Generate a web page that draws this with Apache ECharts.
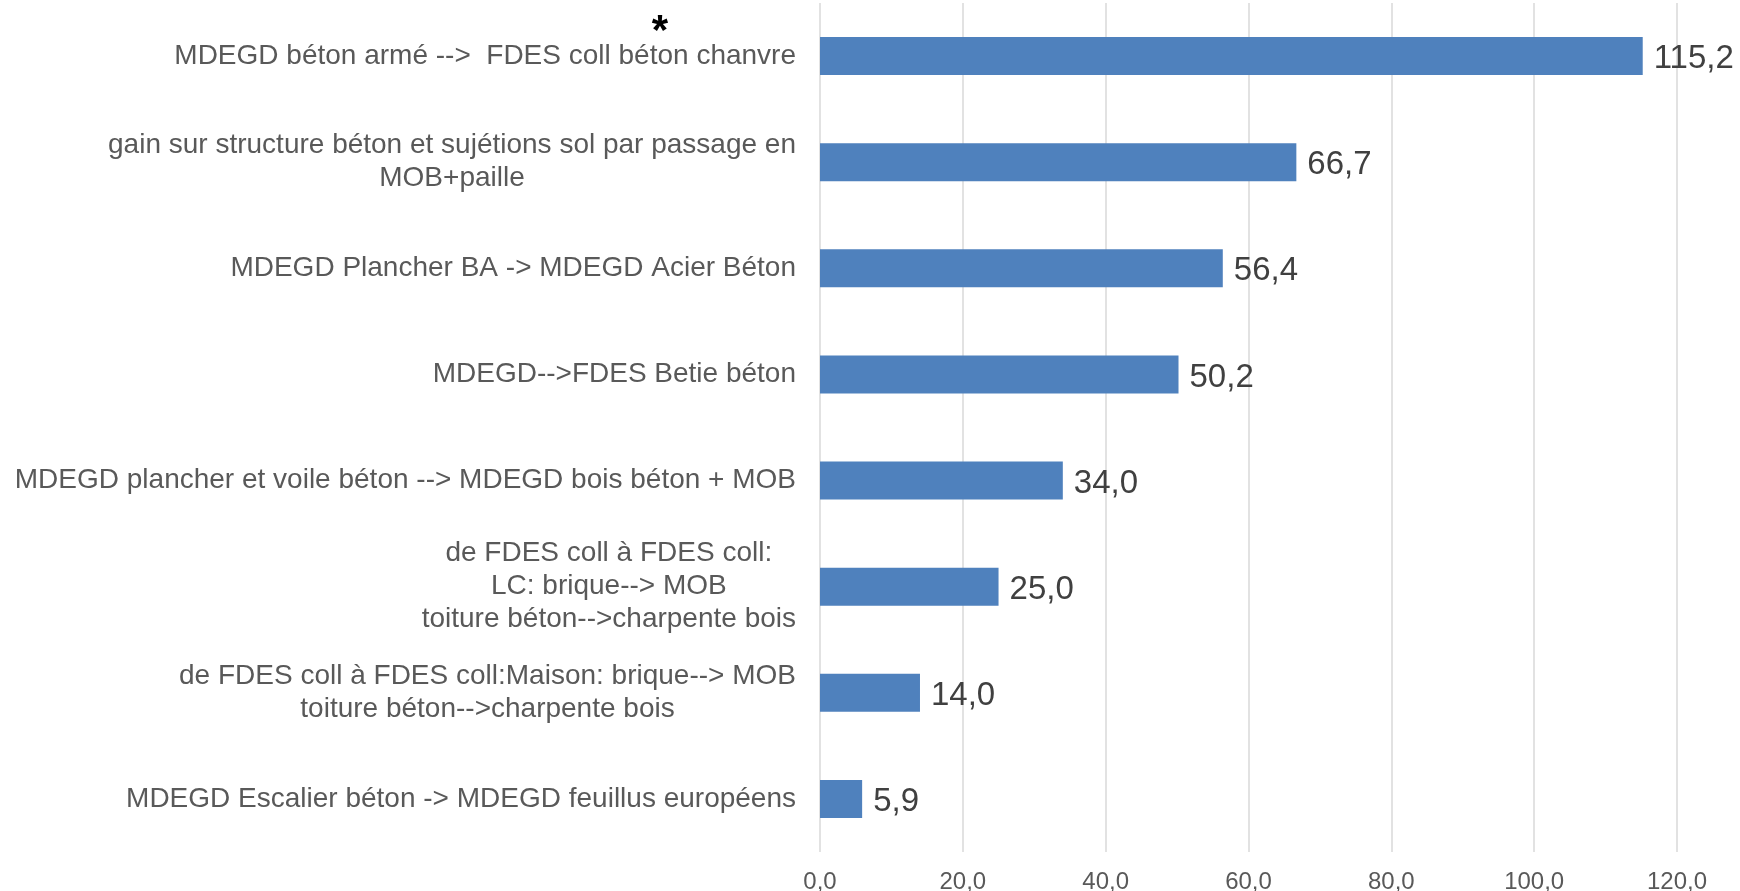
<!DOCTYPE html>
<html>
<head>
<meta charset="utf-8">
<script src="https://cdn.jsdelivr.net/npm/echarts@6/dist/echarts.min.js"></script>
<style>
html,body{margin:0;padding:0;background:#fff;}
#chart{width:1740px;height:891px;}
</style>
</head>
<body>
<div id="chart"></div>
<script>
const categories = [
  "MDEGD béton armé -->  FDES coll béton chanvre",
  "gain sur structure béton et sujétions sol par passage en\nMOB+paille",
  "MDEGD Plancher BA -> MDEGD Acier Béton",
  "MDEGD-->FDES Betie béton",
  "MDEGD plancher et voile béton --> MDEGD bois béton + MOB",
  "de FDES coll à FDES coll:\nLC: brique--> MOB\ntoiture béton-->charpente bois",
  "de FDES coll à FDES coll:Maison: brique--> MOB\ntoiture béton-->charpente bois",
  "MDEGD Escalier béton -> MDEGD feuillus européens"
];
const values = [115.2, 66.7, 56.4, 50.2, 34.0, 25.0, 14.0, 5.9];
const xTicks = { min: 0, max: 120, interval: 20 };
const annotation = "*";

const fmt = v => Number(v).toFixed(1).replace('.', ',');
const FONT = '"Liberation Sans", Arial, sans-serif';

const chart = echarts.init(document.getElementById('chart'), null, { renderer: 'canvas' });
chart.setOption({
  animation: false,
  backgroundColor: '#ffffff',
  grid: { left: 820, right: 63, top: 3, bottom: 39, containLabel: false, outerBoundsMode: 'none' },
  xAxis: {
    type: 'value',
    min: xTicks.min, max: xTicks.max, interval: xTicks.interval,
    axisLine: { show: false },
    axisTick: { show: false },
    splitLine: { show: true, lineStyle: { color: '#D9D9D9', width: 1.5 } },
    axisLabel: { formatter: fmt, color: '#595959', fontSize: 24, fontFamily: FONT, margin: 18 }
  },
  yAxis: {
    type: 'category',
    inverse: true,
    data: categories,
    axisLine: { show: false },
    axisTick: { show: false },
    axisLabel: {
      margin: 24,
      formatter: v => v.split('\n').map(l => '{c|' + l + '}').join('\n'),
      rich: { c: { align: 'center', color: '#595959', fontSize: 28, fontFamily: FONT, lineHeight: 33 } }
    }
  },
  series: [{
    type: 'bar',
    data: values,
    barWidth: 38,
    itemStyle: { color: '#4F81BD' },
    label: {
      show: true, position: 'right', distance: 11, offset: [0, 3],
      formatter: p => fmt(p.value),
      color: '#404040', fontSize: 33, fontFamily: FONT
    }
  }],
  graphic: [{
    type: 'text', x: 660, y: 32,
    style: { text: annotation, fill: '#000', fontSize: 42, fontWeight: 'bold', fontFamily: FONT, align: 'center', verticalAlign: 'middle' }
  }]
});
</script>
</body>
</html>
